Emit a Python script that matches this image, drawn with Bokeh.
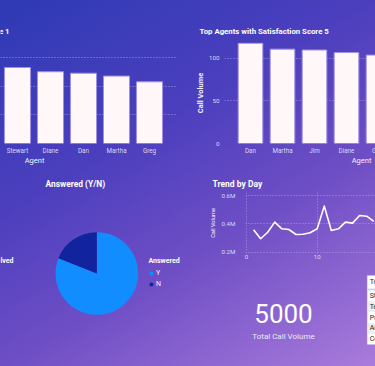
import numpy as np
from bokeh.plotting import figure
from bokeh.models import (Range1d, FixedTicker, Label, Legend, LegendItem,
                          CustomJSTickFormatter, ColumnDataSource, BoxAnnotation,
                          GridBox, Spacer)
from bokeh.layouts import row, column
from bokeh.embed import file_html
from bokeh.resources import INLINE

# ---------------- data ----------------
score1_agents = ["Stewart", "Diane", "Dan", "Martha", "Greg"]
score1_calls = [53, 50, 49, 47, 43]
score1_ticks = [0, 20, 40, 60]

score5_agents = ["Dan", "Martha", "Jim", "Diane", "Greg"]
score5_calls = [118, 111, 110, 107, 104]
score5_ticks = [0, 50, 100]

answered_labels = ["Y", "N"]
answered_share = [0.81, 0.19]
answered_colors = ["#118DFF", "#12239E"]

trend_days = [1, 2, 3, 4, 5, 6, 7, 8, 9, 10, 11, 12, 13, 14, 15, 16, 17, 18]
trend_calls = [358000, 295000, 341000, 412000, 365000, 360000, 325000, 327000,
               337000, 365000, 525000, 353000, 365000, 412000, 405000, 459000,
               454000, 417000]
trend_x_ticks = [0, 10, 20]
trend_y_ticks = [200000, 400000, 600000]

total_calls = 5000

table_header = "Topic"
table_topics = ["Streaming", "Technical Support", "Payment related",
                "Admin Support", "Contract related"]

FONT = "Roboto"
GRID = "#A99FE8"
TICK = "#DCD6F4"
LIGHT = "#F4F1FC"
GRADIENT = ("linear-gradient(150deg, #2E3AB4 0%, #4C3FBE 37%, "
            "#6E4EC5 63%, #A97BDB 100%)")
W, H = 375, 366


def base(p):
    p.background_fill_color = None
    p.border_fill_color = None
    p.outline_line_color = None
    try:
        p.frame_align = False
    except AttributeError:
        pass


def style_axis(ax, size="6.3px", standoff=3):
    ax.axis_line_color = None
    ax.major_tick_line_color = None
    ax.minor_tick_line_color = None
    ax.major_tick_out = 0
    ax.major_tick_in = 0
    ax.major_label_text_font = FONT
    ax.major_label_text_font_size = size
    ax.major_label_text_color = TICK
    ax.major_label_standoff = standoff


def style_grid(g):
    g.grid_line_color = GRID
    g.grid_line_dash = "1 2"
    g.grid_line_alpha = 0.9


def bar_fig(agents, calls, ticks, width, xr, yr, borders, bar_w):
    p = figure(width=width, height=168, x_range=Range1d(*xr), y_range=Range1d(*yr),
               output_backend="svg", toolbar_location=None,
               min_border_left=borders[0], min_border_right=borders[1],
               min_border_top=borders[2], min_border_bottom=borders[3])
    base(p)
    idx = list(range(len(agents)))
    src = ColumnDataSource(dict(x=idx, top=calls))
    p.vbar(x="x", top="top", bottom=0, width=bar_w, source=src,
           fill_color="#FFF7F8", line_color="#9D8FE3", line_width=1)
    p.xaxis.ticker = FixedTicker(ticks=idx)
    p.xaxis.formatter = CustomJSTickFormatter(
        args=dict(names=agents), code="return names[Math.round(tick)] || '';")
    style_axis(p.xaxis[0], standoff=3)
    p.yaxis.ticker = FixedTicker(ticks=ticks)
    style_axis(p.yaxis[0], size="6.2px", standoff=5)
    p.xgrid.visible = False
    style_grid(p.ygrid[0])
    return p


# ---- top-left: satisfaction score 1 ----
pA = bar_fig(score1_agents, score1_calls, score1_ticks, 188,
             (-0.515, 4.818), (0, 70.4), (0, 12, 42, 25), 0.79)
pA.yaxis.visible = False

# ---- top-right: satisfaction score 5 ----
pB = bar_fig(score5_agents, score5_calls, score5_ticks, 187,
             (-0.8125, 3.906), (0, 118.8), (36, 0, 42, 25), 0.77)
pB.yaxis.axis_label = "Call Volume"
pB.yaxis.axis_label_text_font = FONT
pB.yaxis.axis_label_text_font_size = "7.5px"
pB.yaxis.axis_label_text_font_style = "bold"
pB.yaxis.axis_label_text_color = LIGHT
pB.yaxis.axis_label_standoff = 1

# ---- bottom-left: pie ----
pC = figure(width=188, height=198, x_range=Range1d(-2.332, 2.22),
            y_range=Range1d(-2.252, 2.542), output_backend="svg",
            toolbar_location=None, x_axis_location=None, y_axis_location=None,
            min_border_left=0, min_border_right=0, min_border_top=0,
            min_border_bottom=0)
base(pC)
pC.grid.visible = False
cum = np.concatenate([[0.0], np.cumsum(answered_share)])
starts = np.pi / 2 - 2 * np.pi * cum[:-1]
ends = np.pi / 2 - 2 * np.pi * cum[1:]
items = []
for i, lab in enumerate(answered_labels):
    pC.wedge(x=0, y=0, radius=1, start_angle=starts[i], end_angle=ends[i],
             direction="clock", fill_color=answered_colors[i], line_color=None)
    r = pC.scatter(x=[0], y=[0], marker="circle", fill_color=answered_colors[i],
                   line_color=None, visible=False)
    items.append(LegendItem(label=lab, renderers=[r]))
leg = Legend(items=items, location=(146, 77), orientation="vertical",
             background_fill_alpha=0, border_line_color=None, padding=0, margin=0,
             glyph_width=10, glyph_height=10, label_height=10, label_standoff=-1,
             spacing=1, label_text_font=FONT, label_text_font_size="7px",
             label_text_color=LIGHT, label_text_baseline="middle",
             inactive_fill_alpha=0)
pC.add_layout(leg)

# ---- bottom-right: trend line ----
pD = figure(width=187, height=100, x_range=Range1d(-0.1414, 18.246),
            y_range=Range1d(190813, 621201), output_backend="svg",
            toolbar_location=None, min_border_left=57, min_border_right=0,
            min_border_top=24, min_border_bottom=15)
base(pD)
pD.line(trend_days, trend_calls, line_color="white", line_width=1.6,
        line_join="round")
pD.xaxis.ticker = FixedTicker(ticks=trend_x_ticks)
pD.yaxis.ticker = FixedTicker(ticks=trend_y_ticks)
pD.yaxis.formatter = CustomJSTickFormatter(code="return (tick/1e6).toFixed(1) + 'M';")
style_axis(pD.xaxis[0], size="6.2px", standoff=1)
style_axis(pD.yaxis[0], size="6.2px", standoff=10)
pD.yaxis.axis_label = "Call Volume"
pD.yaxis.axis_label_text_font = FONT
pD.yaxis.axis_label_text_font_size = "5.6px"
pD.yaxis.axis_label_text_font_style = "normal"
pD.yaxis.axis_label_text_color = LIGHT
pD.yaxis.axis_label_standoff = 3
style_grid(pD.xgrid[0])
style_grid(pD.ygrid[0])

main = column(row(pA, pB), row(pC, column(pD, Spacer(width=187, height=98))))

# ---- overlay for titles, card and table (page coordinates, y downwards) ----
ov = figure(width=W, height=H, x_range=Range1d(0, W), y_range=Range1d(H, 0),
            output_backend="svg", toolbar_location=None,
            x_axis_location=None, y_axis_location=None,
            min_border_left=0, min_border_right=0, min_border_top=0,
            min_border_bottom=0)
base(ov)
ov.grid.visible = False


def text(t, x, y, size, color="white", bold=False, align="left"):
    ov.add_layout(Label(x=x, y=y, text=t, text_font=FONT, text_font_size=size,
                        text_color=color, text_font_style="bold" if bold else "normal",
                        text_align=align, text_baseline="middle"))


text("Top Agents with Satisfaction Score 1", 9, 31, "7.8px", bold=True, align="right")
text("Top Agents with Satisfaction Score 5", 199, 31, "7.8px", bold=True)
text("Agent", 34, 160, "7.5px", color=LIGHT, align="center")
text("Agent", 361, 160, "7.5px", color=LIGHT, align="center")
text(score5_agents[-1], 378, 150, "6.3px", color=TICK, align="center")
text("Answered (Y/N)", 45, 183, "8.4px", bold=True)
text("Answered", 148, 260, "7px", bold=True)
text("Resolved", 13, 260, "7px", bold=True, align="right")
text("Trend by Day", 212, 183, "8.5px", bold=True)
text(str(total_calls), 283, 313, "26px", align="center")
text("Total Call Volume", 283, 336, "8px", color="#EEE8FA", align="center")

# partial table at the right edge
t_left, t_top, head_h, row_h = 366.7, 275.0, 13.0, 10.8
t_bottom = t_top + head_h + 2 + row_h * len(table_topics)
ov.add_layout(BoxAnnotation(left=t_left, right=t_left + 60, top=t_top, bottom=t_bottom,
                            fill_color="white", fill_alpha=1,
                            line_color="#C8C8C8", line_width=1))
ov.add_layout(BoxAnnotation(left=t_left + 0.5, right=t_left + 60, top=t_top + head_h,
                            bottom=t_top + head_h + 2, fill_color="#C9DAF0",
                            fill_alpha=1, line_color=None))
text(table_header, t_left + 2.5, t_top + head_h / 2, "7px", color="#252423")
for i, topic in enumerate(table_topics):
    top = t_top + head_h + 2 + i * row_h
    if i % 2 == 1:
        ov.add_layout(BoxAnnotation(left=t_left + 0.5, right=t_left + 60, top=top,
                                    bottom=top + row_h, fill_color="#EDEDED",
                                    fill_alpha=1, line_color=None))
    text(topic, t_left + 2.5, top + row_h / 2, "7px", color="#252423")

layout = GridBox(children=[(main, 0, 0), (ov, 0, 0)], spacing=0,
                 styles={"background": GRADIENT})

open("out.html", "w").write(file_html(layout, INLINE))
